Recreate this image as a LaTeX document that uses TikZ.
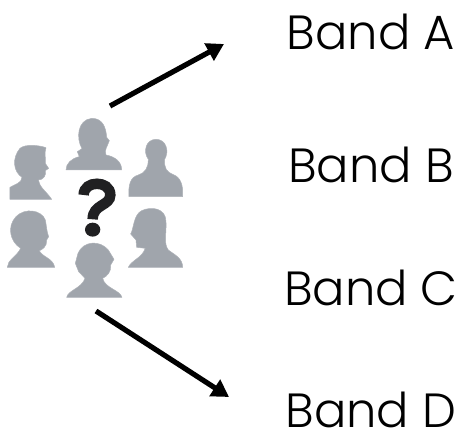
\documentclass[tikz,border=0pt]{standalone}
\usepackage{fontspec}
\setmainfont{Poppins Light}
\usetikzlibrary{arrows.meta}
\definecolor{sil}{RGB}{160,165,172}
\definecolor{qm}{RGB}{32,32,34}
\tikzset{
  bandlabel/.style={font=\fontsize{48}{48}\selectfont,text=black,inner sep=0pt,anchor=base},
  person/.style={fill=sil,draw=sil!85!white,line width=0.5pt,line join=round},
  pointer/.style={draw=black,line width=5.2pt,-{Triangle[length=17pt,width=19pt]}}
}
\begin{document}
\begin{tikzpicture}[x=1pt,y=-1pt]
\useasboundingbox (0,0) rectangle (459,430);
\node[bandlabel] (a) at (371,50) {Band A};
\node[bandlabel] (b) at (371,183) {Band B};
\node[bandlabel] (c) at (371,306) {Band C};
\node[bandlabel] (d) at (371,428) {Band D};
\coordinate (s1) at (110,106);
\coordinate (e1) at (224,44);
\coordinate (s2) at (96,311);
\coordinate (e2) at (229,397);
\draw[pointer] (s1) -- (e1);
\draw[pointer] (s2) -- (e2);
\begin{scope}[x=0.3333pt,y=-0.3333pt,yshift=-100pt]
% top centre
\fill[person] (198,210) .. controls (198,190) and (215,175) .. (238,170)
 -- (232,155) -- (246,146)
 .. controls (228,115) and (232,60) .. (275,55)
 .. controls (310,55) and (318,85) .. (320,112)
 -- (328,122) .. controls (322,140) and (312,150) .. (318,165)
 .. controls (345,170) and (365,185) .. (365,210) -- cycle;
% upper left
\fill[person] (30,298) -- (30,262) .. controls (45,252) and (65,250) .. (66,232)
 .. controls (40,215) and (35,175) .. (60,145)
 .. controls (75,132) and (115,135) .. (138,143)
 .. controls (132,160) and (138,175) .. (136,190) -- (146,205) -- (136,212)
 .. controls (140,225) and (130,240) .. (115,240)
 .. controls (118,262) and (140,275) .. (155,298) -- cycle;
% upper right
\fill[person] (387,290) .. controls (385,255) and (390,232) .. (415,225)
 .. controls (435,218) and (445,205) .. (445,178)
 .. controls (428,155) and (438,118) .. (468,118)
 .. controls (500,118) and (508,155) .. (494,178)
 .. controls (492,205) and (500,216) .. (520,224)
 .. controls (542,232) and (550,255) .. (548,290) -- cycle;
% lower left
\fill[person] (22,502) .. controls (22,480) and (50,470) .. (62,445)
 .. controls (30,425) and (20,380) .. (48,350)
 .. controls (75,322) and (125,330) .. (136,360)
 .. controls (140,380) and (140,395) .. (146,410) -- (140,420)
 .. controls (142,440) and (125,450) .. (118,452)
 .. controls (125,470) and (160,475) .. (164,502) -- cycle;
% lower right
\fill[person] (385,502) .. controls (395,480) and (425,475) .. (436,445)
 -- (410,442) -- (408,420) -- (392,402)
 .. controls (402,385) and (400,345) .. (425,332)
 .. controls (455,318) and (498,325) .. (498,365)
 .. controls (500,400) and (490,430) .. (505,450)
 .. controls (525,465) and (548,475) .. (548,502) -- cycle;
% bottom centre
\fill[person] (200,592) .. controls (205,570) and (245,565) .. (255,535)
 -- (236,515) -- (226,490) -- (234,460)
 .. controls (250,422) and (300,420) .. (325,450)
 -- (342,478) -- (332,495)
 .. controls (335,515) and (320,530) .. (308,535)
 .. controls (315,565) and (360,570) .. (366,592) -- cycle;
% question mark
\draw[qm,line width=10.5pt,line cap=butt] (251,285)
 .. controls (251,240) and (331,240) .. (331,285)
 .. controls (331,318) and (278,312) .. (278,358);
\fill[qm] (278,389) ellipse [x radius=23,y radius=21];
\end{scope}
\end{tikzpicture}
\end{document}
